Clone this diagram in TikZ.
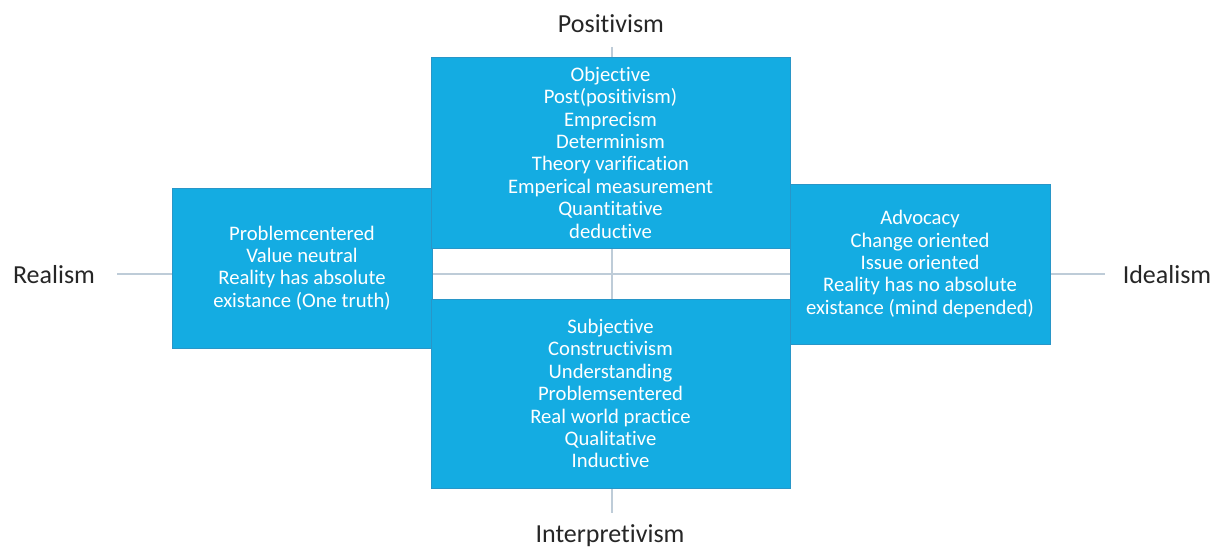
\documentclass[tikz,border=0pt]{standalone}
\usepackage{fontspec}
\setmainfont{Carlito}[Ligatures=NoCommon]
\definecolor{boxblue}{RGB}{20,172,226}
\definecolor{boxedge}{RGB}{40,150,200}
\definecolor{axisgray}{RGB}{190,204,216}
\begin{document}
\begin{tikzpicture}[x=0.75pt,y=-0.75pt,
  panel/.style={rectangle,fill=boxblue,draw=boxedge,line width=0.6pt,
    inner sep=0pt,align=center,text=white,
    font=\fontsize{15.5}{16.8}\selectfont},
  pole/.style={inner sep=0pt,anchor=base,text=black!85,
    font=\fontsize{19.5}{22}\selectfont},
  axis/.style={draw=axisgray,line width=0.8pt}]
\useasboundingbox (0,0) rectangle (1216,549);

% axis end points
\coordinate (hl) at (117,274);
\coordinate (hr) at (1105,274);
\coordinate (vt) at (612,47);
\coordinate (vb) at (612,513);

% the two axes sit behind the panels
\draw[axis] (hl) -- (hr);
\draw[axis] (vt) -- (vb);

% side panels
\node[panel,minimum width=260*0.75pt,minimum height=160*0.75pt] (left) at (302,268)
  {Problemcentered\\Value neutral\\Reality has absolute\\existance (One truth)};
\node[panel,minimum width=260*0.75pt,minimum height=160*0.75pt] (right) at (920,264)
  {Advocacy\\Change oriented\\Issue oriented\\Reality has no absolute\\existance (mind depended)};

% central panels
\node[panel,minimum width=359*0.75pt,minimum height=191*0.75pt] (top) at (610.5,152.5)
  {Objective\\Post(positivism)\\Emprecism\\Determinism\\Theory varification\\Emperical measurement\\Quantitative\\deductive};
\node[panel,minimum width=359*0.75pt,minimum height=189*0.75pt] (bottom) at (610.5,393.5)
  {Subjective\\Constructivism\\Understanding\\Problemsentered\\Real world practice\\Qualitative\\Inductive};

% pole labels
\node[pole] (pos) at (611,33) {Positivism};
\node[pole] (int) at (610,542) {Interpretivism};
\node[pole] (rea) at (54,283) {Realism};
\node[pole] (ide) at (1167,283) {Idealism};
\end{tikzpicture}
\end{document}
